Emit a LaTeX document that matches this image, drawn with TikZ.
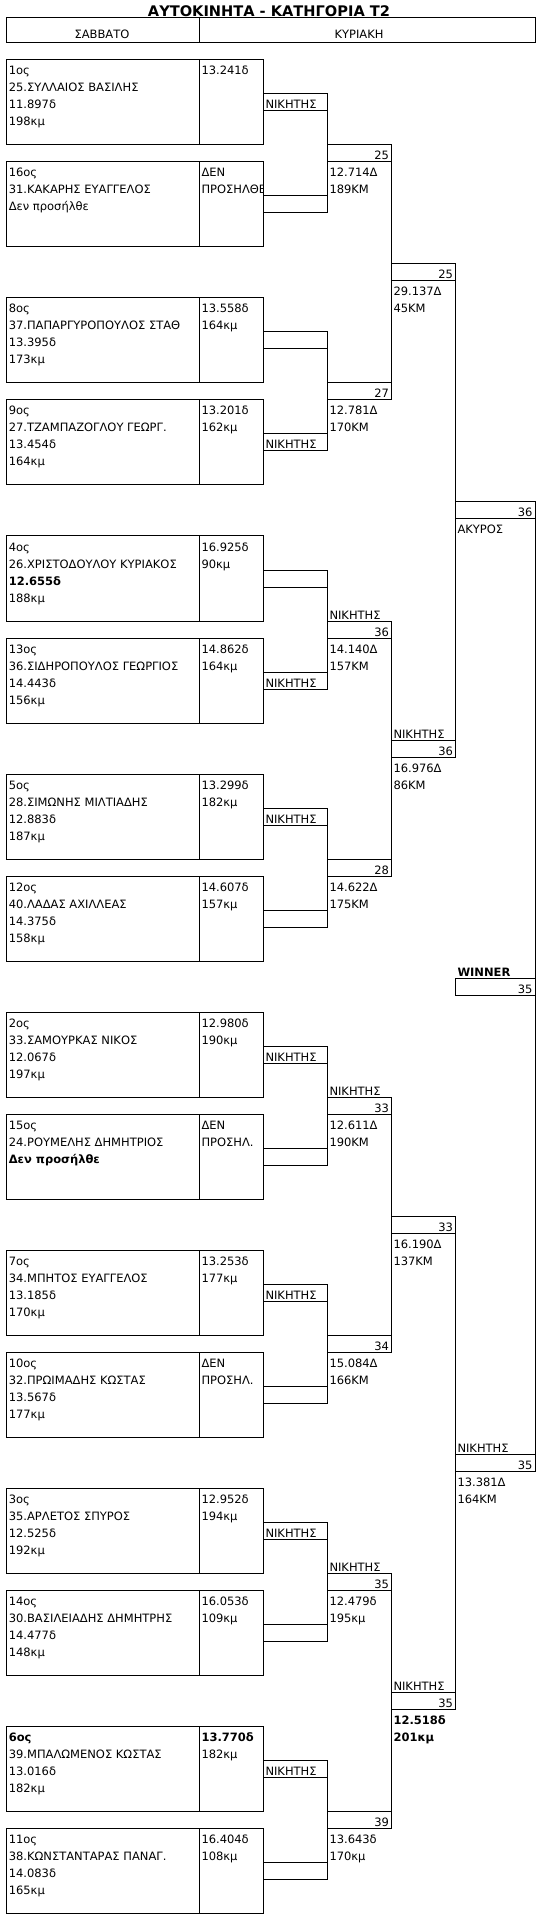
\documentclass[tikz,border=0pt]{standalone}
\usepackage{fontspec}
\setmainfont{DejaVu Sans}

\begin{document}
\begin{tikzpicture}
  [x=1pt,y=-17.01pt,line width=1pt,
   font=\fontsize{11.5}{14}\selectfont,
   entry/.style={draw,anchor=north west,minimum width=193.5pt,minimum height=85.05pt,inner sep=0pt,outer sep=0pt},
   result/.style={entry,minimum width=64pt},
   cell/.style={draw,anchor=north west,minimum width=64pt,minimum height=17.01pt,inner sep=0pt,outer sep=0pt},
   widecell/.style={cell,minimum width=79.5pt},
   txt/.style={anchor=base west,inner sep=0pt,yshift=2pt},
   num/.style={anchor=base east,inner sep=0pt,yshift=2pt}]
  \useasboundingbox (0,-3.5097) rectangle (539,109.365);

  % title and days
  \node[anchor=base,inner sep=0pt,font=\bfseries\fontsize{14.6}{16}\selectfont] (title) at (269,-2.551) {ΑΥΤΟΚΙΝΗΤΑ - ΚΑΤΗΓΟΡΙΑ Τ2};
  \node[draw,anchor=north west,minimum width=193.5pt,minimum height=25pt,inner sep=0pt,outer sep=0pt] (sat) at (6,-2.4927) {};
  \node[draw,anchor=north west,minimum width=335.5pt,minimum height=25pt,inner sep=0pt,outer sep=0pt] (sun) at (sat.north east) {};
  \node[anchor=base,inner sep=0pt] (sat-t) at (102,-1.258) {ΣΑΒΒΑΤΟ};
  \node[anchor=base,inner sep=0pt] (sun-t) at (359,-1.258) {ΚΥΡΙΑΚΗ};

  % saturday entries
  \foreach \r/\id/\la/\lb/\lc/\ld/\ra/\rb in {
      0/0a/1ος/25.ΣΥΛΛΑΙΟΣ ΒΑΣΙΛΗΣ/11.897δ/198κμ/13.241δ/{},
      6/0b/16ος/31.ΚΑΚΑΡΗΣ ΕΥΑΓΓΕΛΟΣ/Δεν προσήλθε/{}/ΔΕΝ/ΠΡΟΣΗΛΘΕ,
      14/1a/8ος/37.ΠΑΠΑΡΓΥΡΟΠΟΥΛΟΣ ΣΤΑΘ/13.395δ/173κμ/13.558δ/164κμ,
      20/1b/9ος/27.ΤΖΑΜΠΑΖΟΓΛΟΥ ΓΕΩΡΓ./13.454δ/164κμ/13.201δ/162κμ,
      28/2a/4ος/26.ΧΡΙΣΤΟΔΟΥΛΟΥ ΚΥΡΙΑΚΟΣ/{\textbf{12.655δ}}/188κμ/16.925δ/90κμ,
      34/2b/13ος/36.ΣΙΔΗΡΟΠΟΥΛΟΣ ΓΕΩΡΓΙΟΣ/14.443δ/156κμ/14.862δ/164κμ,
      42/3a/5ος/28.ΣΙΜΩΝΗΣ ΜΙΛΤΙΑΔΗΣ/12.883δ/187κμ/13.299δ/182κμ,
      48/3b/12ος/40.ΛΑΔΑΣ ΑΧΙΛΛΕΑΣ/14.375δ/158κμ/14.607δ/157κμ,
      56/4a/2ος/33.ΣΑΜΟΥΡΚΑΣ ΝΙΚΟΣ/12.067δ/197κμ/12.980δ/190κμ,
      62/4b/15ος/24.ΡΟΥΜΕΛΗΣ ΔΗΜΗΤΡΙΟΣ/{\textbf{Δεν προσήλθε}}/{}/ΔΕΝ/ΠΡΟΣΗΛ.,
      70/5a/7ος/34.ΜΠΗΤΟΣ ΕΥΑΓΓΕΛΟΣ/13.185δ/170κμ/13.253δ/177κμ,
      76/5b/10ος/32.ΠΡΩΙΜΑΔΗΣ ΚΩΣΤΑΣ/13.567δ/177κμ/ΔΕΝ/ΠΡΟΣΗΛ.,
      84/6a/3ος/35.ΑΡΛΕΤΟΣ ΣΠΥΡΟΣ/12.525δ/192κμ/12.952δ/194κμ,
      90/6b/14ος/30.ΒΑΣΙΛΕΙΑΔΗΣ ΔΗΜΗΤΡΗΣ/14.477δ/148κμ/16.053δ/109κμ,
      98/7a/{\textbf{6ος}}/39.ΜΠΑΛΩΜΕΝΟΣ ΚΩΣΤΑΣ/13.016δ/182κμ/{\textbf{13.770δ}}/182κμ,
      104/7b/11ος/38.ΚΩΝΣΤΑΝΤΑΡΑΣ ΠΑΝΑΓ./14.083δ/165κμ/16.404δ/108κμ}
  {
    \node[entry] (e\id) at (6,\r) {};
    \node[result] (t\id) at (e\id.north east) {};
    \node[txt] (e\id-1) at (8.3,\r+1) {\la};
    \node[txt] (e\id-2) at (8.3,\r+2) {\lb};
    \node[txt] (e\id-3) at (8.3,\r+3) {\lc};
    \node[txt] (e\id-4) at (8.3,\r+4) {\ld};
    \begin{scope}
      \clip (t\id.north west) rectangle (t\id.south east);
      \node[txt] (t\id-1) at (201,\r+1) {\ra};
      \node[txt] (t\id-2) at (201,\r+2) {\rb};
    \end{scope}
  }

  % sunday, first two rounds
  \foreach \k/\wa/\wb/\num/\lab/\ta/\tb in {
      0/ΝΙΚΗΤΗΣ/{}/25/{}/12.714Δ/189ΚΜ,
      1/{}/ΝΙΚΗΤΗΣ/27/{}/12.781Δ/170ΚΜ,
      2/{}/ΝΙΚΗΤΗΣ/36/ΝΙΚΗΤΗΣ/14.140Δ/157ΚΜ,
      3/ΝΙΚΗΤΗΣ/{}/28/{}/14.622Δ/175ΚΜ,
      4/ΝΙΚΗΤΗΣ/{}/33/ΝΙΚΗΤΗΣ/12.611Δ/190ΚΜ,
      5/ΝΙΚΗΤΗΣ/{}/34/{}/15.084Δ/166ΚΜ,
      6/ΝΙΚΗΤΗΣ/{}/35/ΝΙΚΗΤΗΣ/12.479δ/195κμ,
      7/ΝΙΚΗΤΗΣ/{}/39/{}/13.643δ/170κμ}
  {
    \pgfmathtruncatemacro\r{14*\k}
    \node[cell] (w\k-a) at (263.5,\r+2) {};
    \node[cell] (w\k-b) at (263.5,\r+8) {};
    \node[txt] (w\k-a-t) at (265,\r+3) {\wa};
    \node[txt] (w\k-b-t) at (265,\r+9) {\wb};
    \node[cell] (m\k) at (327.5,\r+5) {};
    \node[num] (m\k-n) at (389.5,\r+6) {\num};
    \node[txt] (m\k-l) at (329,\r+5) {\lab};
    \node[txt] (m\k-a) at (329,\r+7) {\ta};
    \node[txt] (m\k-b) at (329,\r+8) {\tb};
    \draw (w\k-a.north east) -- (w\k-b.south east);
  }
  \foreach \from/\to in {m0/m1,m2/m3,m4/m5,m6/m7}
    \draw (\from.north east) -- (\to.south east);

  % semi finals
  \foreach \q/\num/\lab/\ta/\tb in {
      0/25/{}/29.137Δ/45ΚΜ,
      1/36/ΝΙΚΗΤΗΣ/16.976Δ/86ΚΜ,
      2/33/{}/16.190Δ/137ΚΜ,
      3/35/ΝΙΚΗΤΗΣ/{\textbf{12.518δ}}/{\textbf{201κμ}}}
  {
    \pgfmathtruncatemacro\r{28*\q+12}
    \node[cell] (q\q) at (391.5,\r) {};
    \node[num] (q\q-n) at (453.5,\r+1) {\num};
    \node[txt] (q\q-l) at (393,\r) {\lab};
    \node[txt] (q\q-a) at (393,\r+2) {\ta};
    \node[txt] (q\q-b) at (393,\r+3) {\tb};
  }
  \foreach \from/\to in {q0/q1,q2/q3}
    \draw (\from.north east) -- (\to.south east);

  % final
  \node[widecell] (h0) at (455.5,26) {};
  \node[num] (h0-n) at (533,27) {36};
  \node[txt] (h0-a) at (457,28) {ΑΚΥΡΟΣ};
  \node[widecell] (h1) at (455.5,82) {};
  \node[txt] (h1-l) at (457,82) {ΝΙΚΗΤΗΣ};
  \node[num] (h1-n) at (533,83) {35};
  \node[txt] (h1-a) at (457,84) {13.381Δ};
  \node[txt] (h1-b) at (457,85) {164ΚΜ};
  \draw (h0.north east) -- (h1.south east);

  \node[widecell] (win) at (455.5,54) {};
  \node[txt] (win-l) at (457,54) {\textbf{WINNER}};
  \node[num] (win-n) at (533,55) {35};
\end{tikzpicture}
\end{document}
